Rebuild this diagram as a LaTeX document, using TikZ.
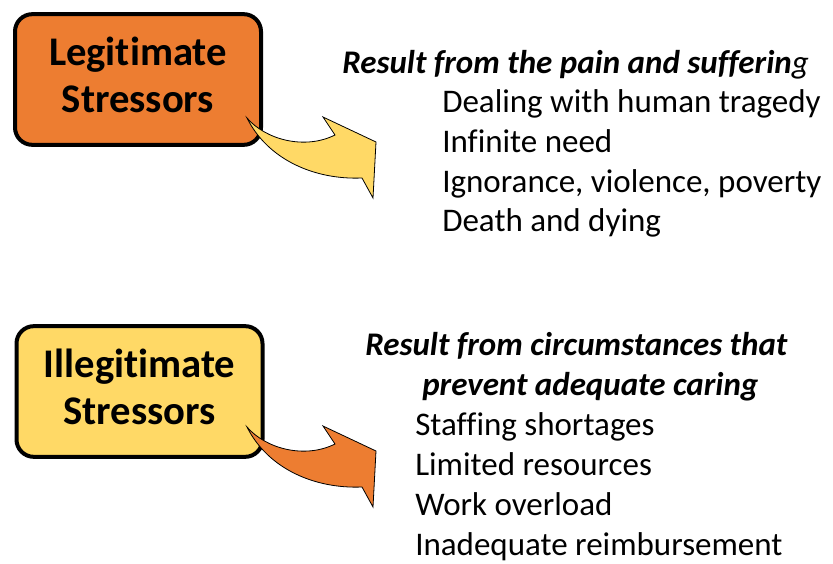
\documentclass[tikz,border=0pt]{standalone}
\usepackage{fontspec}
\setmainfont{Carlito}[Ligatures=NoCommon]
\definecolor{stressorange}{HTML}{ED7D31}
\definecolor{stressyellow}{HTML}{FFD966}

\begin{document}
\begin{tikzpicture}[x=0.75pt,y=-0.75pt,
    stressbox/.style={draw=black, line width=3pt, rounded corners=13pt,
        minimum width=184.5pt, minimum height=98pt, inner sep=0pt, align=center,
        text depth=7pt, font=\fontsize{30.5}{35.25}\selectfont\bfseries},
    headline/.style={anchor=base west, inner sep=0pt,
        font=\fontsize{24.75}{30}\selectfont\bfseries\itshape},
    itemline/.style={anchor=base west, inner sep=0pt,
        font=\fontsize{24.75}{30}\selectfont},
    bentarrow/.style={draw=black, line width=0.6pt, line join=miter}]
                \useasboundingbox (0,0) rectangle (833,564);

                % the two boxes
                \node[stressbox, fill=stressorange] (legit) at (138,79.5) {Legitimate\\Stressors};
                \node[stressbox, fill=stressyellow] (illegit) at (139.5,391.5) {Illegitimate\\Stressors};

                % bent arrows out of the boxes
                \foreach \dy/\col in {0/stressyellow, 309/stressorange} {
                    \begin{scope}[yshift=-\dy*0.75pt]
                        \draw[bentarrow, fill=\col] (247,118) .. controls (266,140) and (305,150) .. (335,135)
                            -- (323,117) -- (376,142) -- (373,198) -- (362,178)
                            .. controls (315,180) and (268,160) .. cycle;
                    \end{scope}
                }

                % legitimate stressors
                \node[headline] (legithead) at (342,73) {Result from the pain and sufferin{\mdseries g}};
                \foreach \txt [count=\i] in {Dealing with human tragedy, Infinite need,
                        {Ignorance, violence, poverty}, Death and dying} {
                    \node[itemline] (legit-\i) at (442,73+39.7*\i) {\txt};
                }

                % illegitimate stressors
                \node[headline] (illegithead-1) at (365,355) {Result from circumstances that};
                \node[headline] (illegithead-2) at (422,395) {prevent adequate caring};
                \foreach \txt [count=\i] in {Staffing shortages, Limited resources,
                        Work overload, Inadequate reimbursement} {
                    \node[itemline] (illegit-\i) at (415,395+40*\i) {\txt};
                }
            \end{tikzpicture}
\end{document}
